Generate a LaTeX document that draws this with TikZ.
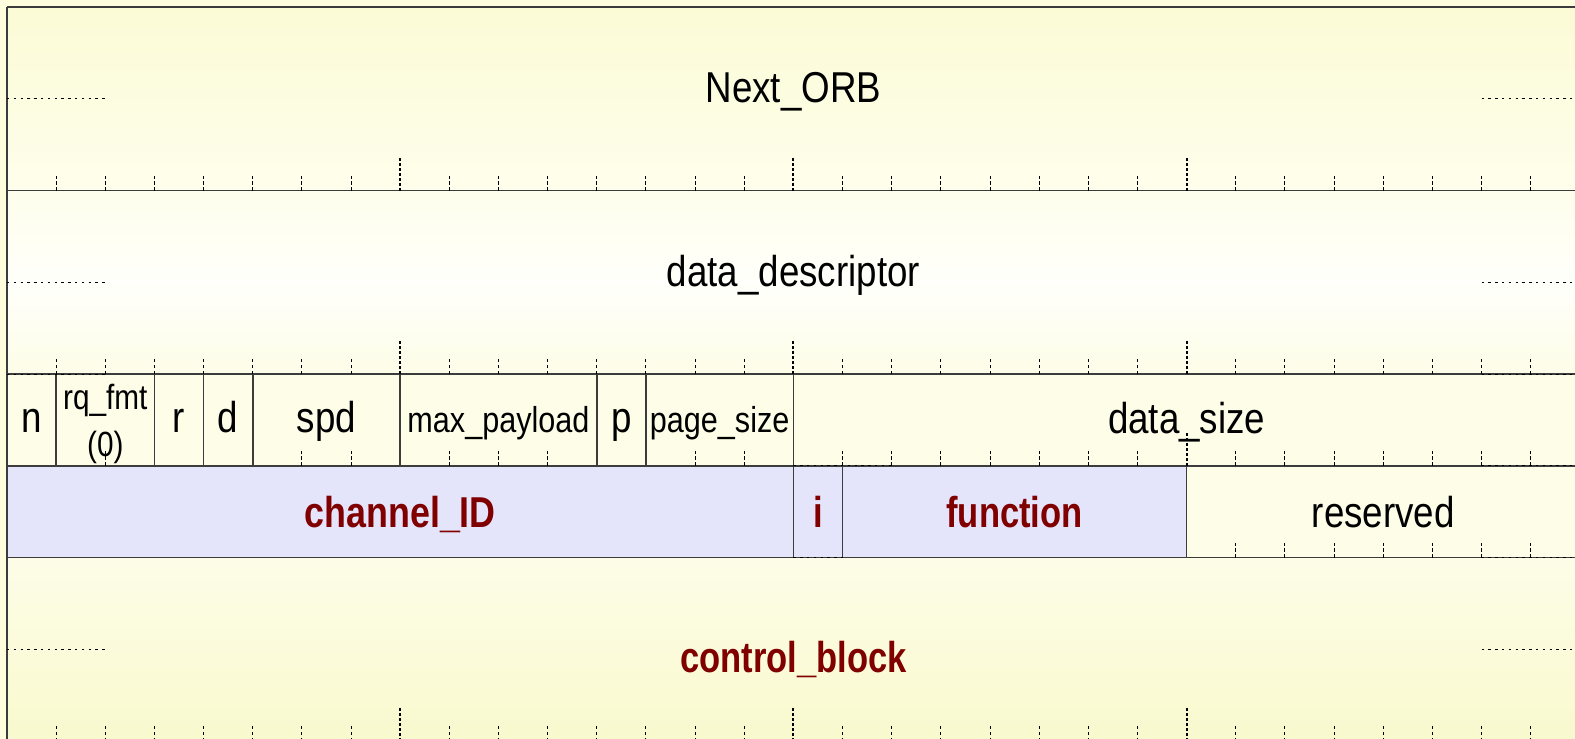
\documentclass[tikz,border=0pt]{standalone}
\usepackage{fontspec}
\setmainfont{Liberation Sans}[FakeStretch=0.85]
\newfontfamily\bnar{Liberation Sans}[FakeStretch=0.8]
\definecolor{pagebg}{HTML}{FEFEDF}
\definecolor{ylA}{HTML}{FBFBD6}
\definecolor{ylB}{HTML}{FEFEEC}
\definecolor{ylC}{HTML}{FFFFFB}
\definecolor{ylD}{HTML}{FDFDE8}
\definecolor{ylE}{HTML}{F9F9CE}
\definecolor{lav}{HTML}{E4E4FB}
\definecolor{fieldred}{HTML}{800000}
\definecolor{rule}{HTML}{3C3C3C}
\newcommand\bigfont{\fontsize{21.6}{26}\selectfont}
\newcommand\midfont{\fontsize{18}{22}\selectfont}
\newcommand\smallfont{\fontsize{17.5}{21}\selectfont}
\def\u{49.15}
\tikzset{
  border/.style={draw=rule, line width=0.75pt},
  tick/.style={line width=0.5pt, dash pattern=on 1.75pt off 1.25pt},
  tallt/.style={line width=1pt, dash pattern=on 1.3pt off 1.2pt},
  cont/.style={line width=0.5pt, dash pattern=on 1.2pt off 2.2pt},
  lbl/.style={inner sep=0pt, anchor=base, text=black, font=\bigfont},
  mlbl/.style={lbl, font=\midfont},
  slbl/.style={lbl, font=\smallfont},
  rlbl/.style={lbl, text=fieldred, font=\bigfont\bnar\bfseries},
}
% ticks: #1 = list of bits, #2 = bottom y
\newcommand\ticks[2]{\foreach \k in {#1} {\draw[tick] ({7+\k*\u},#2) -- ({7+\k*\u},{#2-15});}}
\newcommand\tallticks[2]{\foreach \k in {#1} {\draw[tallt] ({7+\k*\u},#2) -- ({7+\k*\u},{#2-33});}}
\begin{document}
\begin{tikzpicture}[x=0.5pt,y=-0.5pt]
\useasboundingbox (0,0) rectangle (1575,739);
\clip (0,0) rectangle (1575,739);
\fill[pagebg] (0,0) rectangle (1575,739);
% ---- fills
\shade[top color=ylA, bottom color=ylB] (7,7) rectangle (1579.8,190.5);
\shade[top color=ylB, bottom color=ylD, middle color=ylC] (7,190.5) rectangle (1579.8,374);
\fill[ylD] (7,374) rectangle (1579.8,465.75);
\fill[lav] (7,465.75) rectangle ({7+24*\u},557.5);
\fill[ylD] ({7+24*\u},465.75) rectangle (1579.8,557.5);
\shade[top color=ylD, bottom color=ylE] (7,557.5) rectangle (1579.8,741);
% ---- borders
\foreach \yy in {7,190.5,374,465.75,557.5,741} {\draw[border] (7,\yy) -- (1579.8,\yy);}
\draw[border] (7,7) -- (7,741);
\draw[border] (1579.8,7) -- (1579.8,741);
\foreach \k in {1,3,4,5,8,12,13,16} {\draw[border] ({7+\k*\u},374) -- ({7+\k*\u},465.75);}
\foreach \k in {16,17,24} {\draw[border] ({7+\k*\u},465.75) -- ({7+\k*\u},557.5);}
% ---- labels
\node[lbl] (nextorb) at (793.4,102) {Next\_ORB};
\node[lbl] (datadesc) at (793.4,286.7) {data\_descriptor};
\node[lbl] (nbit) at ({7+0.5*\u},432) {n};
\node[slbl] (rqfmt) at ({7+2*\u},409) {rq\_fmt};
\node[slbl] (rqzero) at ({7+2*\u},456) {(0)};
\node[lbl] (rbit) at ({7+3.5*\u},432) {r};
\node[lbl] (dbit) at ({7+4.5*\u},432) {d};
\node[lbl] (spd) at ({7+6.5*\u},432) {spd};
\node[mlbl] (maxpay) at ({7+10*\u},432) {max\_payload};
\node[lbl] (pbit) at ({7+12.5*\u},432) {p};
\node[mlbl] (pagesize) at ({7+14.5*\u},432) {page\_size};
\node[lbl] (datasize) at ({7+24*\u},433) {data\_size};
\node[rlbl, font=\bigfont\addfontfeature{FakeStretch=0.83}\bfseries] (chanid) at ({7+8*\u},527) {channel\_ID};
\node[rlbl] (ibit) at ({7+16.5*\u},527) {i};
\node[rlbl] (func) at ({7+20.5*\u},527) {function};
\node[lbl] (resv) at ({7+28*\u},527) {reserved};
\node[rlbl] (ctrl) at (793.4,672) {control\_block};
% ---- ticks
\ticks{1,2,3,4,5,6,7,9,10,11,12,13,14,15,17,18,19,20,21,22,23,25,26,27,28,29,30,31}{190.5}
\tallticks{8,16,24}{190.5}
\ticks{1,2,3,4,5,6,7,9,10,11,12,13,14,15,17,18,19,20,21,22,23,25,26,27,28,29,30,31}{374}
\tallticks{8,16,24}{374}
\ticks{2,6,7,9,10,11,14,15,17,18,19,20,21,22,23,25,26,27,28,29,30,31}{465.75}
\tallticks{24}{465.75}
\ticks{25,26,27,28,29,30,31}{557.5}
\ticks{1,2,3,4,5,6,7,9,10,11,12,13,14,15,17,18,19,20,21,22,23,25,26,27,28,29,30,31}{741}
\tallticks{8,16,24}{741}
% ---- continuation marks
\foreach \yy in {98.75,282.25,649.25} {
  \draw[cont] (7,\yy) -- ({7+2*\u},\yy);
  \draw[cont] ({7+30*\u},\yy) -- (1579.8,\yy);
}
\draw[cont] (7,374) -- ({7+2*\u},374);
\foreach \yy in {374,465.75,557.5} {\draw[cont] ({7+30*\u},\yy) -- (1579.8,\yy);}
\draw[cont] ({7+16*\u},465.75) -- ({7+18*\u},465.75);
\draw[cont] ({7+16*\u},557.5) -- ({7+17*\u},557.5);
\end{tikzpicture}
\end{document}
